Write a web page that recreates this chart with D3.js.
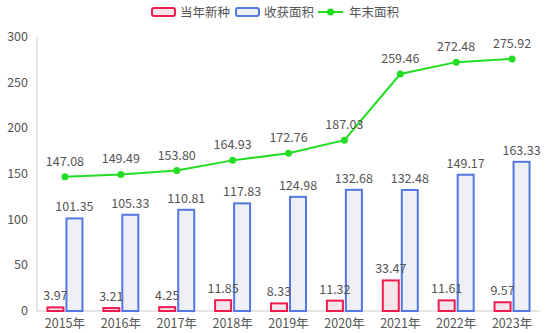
<!DOCTYPE html>
<html><head><meta charset="utf-8">
<script src="https://cdn.jsdelivr.net/npm/d3@7"></script>
<style>
body{margin:0;background:#fff;}
svg{display:block;font-family:"Microsoft YaHei","Noto Sans CJK SC","Noto Sans",sans-serif;}
</style></head>
<body><svg id="c" width="554" height="333"></svg>
<script>
const years = ["2015年","2016年","2017年","2018年","2019年","2020年","2021年","2022年","2023年"];
const newPlanting = [3.97,3.21,4.25,11.85,8.33,11.32,33.47,11.61,9.57];
const harvestArea = [101.35,105.33,110.81,117.83,124.98,132.68,132.48,149.17,163.33];
const yearEndArea = [147.08,149.49,153.80,164.93,172.76,187.03,259.46,272.48,275.92];
const yTicks = [0,50,100,150,200,250,300];

const svg = d3.select("#c");
const m = {left:37, right:540, top:37, bottom:311};
const x = d3.scaleBand().domain(years).range([m.left, m.right]);
const y = d3.scaleLinear().domain([0,300]).range([m.bottom, m.top]);
const txt = "#555";
const redC = "#ee1c4e", blueC = "#5577e0", greenC = "#22dd22";
const bw = 16, gap = 3, fs = 12.5;

// axes
svg.append("line").attr("x1",m.left).attr("x2",m.left).attr("y1",m.top).attr("y2",m.bottom).attr("stroke","#ccc");
svg.append("line").attr("x1",m.left).attr("x2",m.right).attr("y1",m.bottom).attr("y2",m.bottom).attr("stroke","#ccc");
svg.selectAll(".yt").data(yTicks).enter().append("text")
  .attr("x",28).attr("y",d=>y(d)+4).attr("text-anchor","end")
  .attr("font-size",fs).attr("fill",txt).text(d=>d);
svg.selectAll(".xt").data(years).enter().append("text")
  .attr("x",d=>x(d)+x.bandwidth()/2).attr("y",328).attr("text-anchor","middle")
  .attr("font-size",fs).attr("fill",txt).text(d=>d);

// bars
const cx = d=>x(d)+x.bandwidth()/2;
svg.selectAll(".rb").data(years).enter().append("rect")
  .attr("x",d=>cx(d)-gap/2-bw).attr("width",bw)
  .attr("y",(d,i)=>y(newPlanting[i])).attr("height",(d,i)=>m.bottom-y(newPlanting[i]))
  .attr("fill","#f4e6ea").attr("stroke",redC).attr("stroke-width",2);
svg.selectAll(".bb").data(years).enter().append("rect")
  .attr("x",d=>cx(d)+gap/2).attr("width",bw)
  .attr("y",(d,i)=>y(harvestArea[i])).attr("height",(d,i)=>m.bottom-y(harvestArea[i]))
  .attr("fill","#eef0f6").attr("stroke",blueC).attr("stroke-width",2);

svg.selectAll(".rl").data(years).enter().append("text")
  .attr("x",d=>cx(d)-gap/2-bw/2).attr("y",(d,i)=>y(newPlanting[i])-7).attr("text-anchor","middle")
  .attr("font-size",fs).attr("fill",txt).text((d,i)=>newPlanting[i].toFixed(2));
svg.selectAll(".bl").data(years).enter().append("text")
  .attr("x",d=>cx(d)+gap/2+bw/2).attr("y",(d,i)=>y(harvestArea[i])-7).attr("text-anchor","middle")
  .attr("font-size",fs).attr("fill",txt).text((d,i)=>harvestArea[i].toFixed(2));

// line
const line = d3.line().x((d,i)=>cx(years[i])).y(d=>y(d));
svg.append("path").datum(yearEndArea).attr("d",line).attr("fill","none").attr("stroke",greenC).attr("stroke-width",2);
svg.selectAll(".pt").data(yearEndArea).enter().append("circle")
  .attr("cx",(d,i)=>cx(years[i])).attr("cy",d=>y(d)).attr("r",3.5).attr("fill",greenC);
svg.selectAll(".ll").data(yearEndArea).enter().append("text")
  .attr("x",(d,i)=>cx(years[i])).attr("y",d=>y(d)-11).attr("text-anchor","middle")
  .attr("font-size",fs).attr("fill",txt).text(d=>d.toFixed(2));

// legend
const lg = svg.append("g").attr("font-size",12.5).attr("fill",txt);
lg.append("rect").attr("x",152).attr("y",8).attr("width",23).attr("height",8).attr("rx",2)
  .attr("fill","#f4e6ea").attr("stroke",redC).attr("stroke-width",2);
lg.append("text").attr("x",180).attr("y",16.5).text("当年新种");
lg.append("rect").attr("x",236).attr("y",8).attr("width",23).attr("height",8).attr("rx",2)
  .attr("fill","#eef0f6").attr("stroke",blueC).attr("stroke-width",2);
lg.append("text").attr("x",264).attr("y",16.5).text("收获面积");
lg.append("line").attr("x1",318).attr("x2",343).attr("y1",12).attr("y2",12).attr("stroke",greenC).attr("stroke-width",2);
lg.append("circle").attr("cx",330.5).attr("cy",12).attr("r",3.5).attr("fill",greenC);
lg.append("text").attr("x",349).attr("y",16.5).text("年末面积");
</script></body></html>
